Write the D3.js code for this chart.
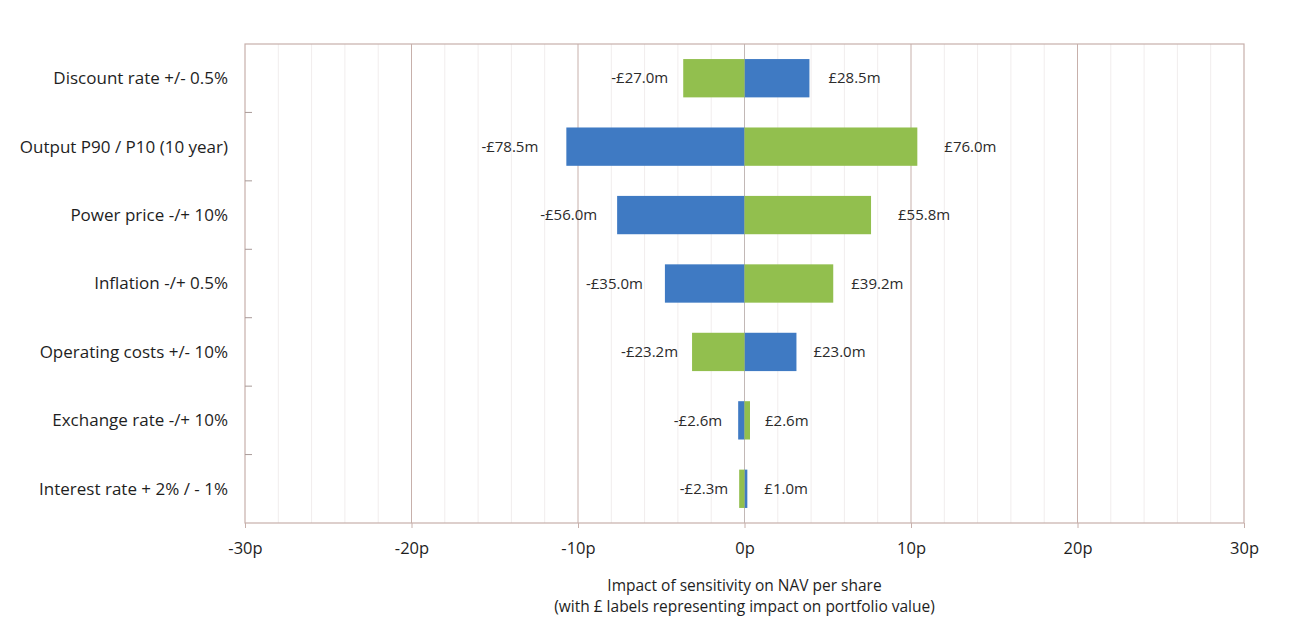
<!DOCTYPE html>
<html>
<head>
<meta charset="utf-8">
<script src="https://cdn.jsdelivr.net/npm/d3@7"></script>
<style>
  html, body { margin: 0; padding: 0; background: #ffffff; }
  svg { display: block; font-family: "Open Sans", "Noto Sans", sans-serif; }
</style>
</head>
<body>
<svg id="chart" width="1290" height="622"></svg>
<script>
// Sensitivity categories (top to bottom)
const categories = [
  "Discount rate +/- 0.5%",
  "Output P90 / P10 (10 year)",
  "Power price -/+ 10%",
  "Inflation -/+ 0.5%",
  "Operating costs +/- 10%",
  "Exchange rate -/+ 10%",
  "Interest rate + 2% / - 1%"
];

// Impact on NAV per share (pence), blue series and green series
const blueValues  = [3.9, -10.7, -7.65, -4.78, 3.12, -0.38, 0.17];
const greenValues = [-3.68, 10.38, 7.6, 5.33, -3.15, 0.33, -0.32];

// Impact on portfolio value (£m) shown as bar labels
const negativeLabels = ["-£27.0m", "-£78.5m", "-£56.0m", "-£35.0m", "-£23.2m", "-£2.6m", "-£2.3m"];
const positiveLabels = ["£28.5m", "£76.0m", "£55.8m", "£39.2m", "£23.0m", "£2.6m", "£1.0m"];

// Axis ticks
const xTicks = [-30, -20, -10, 0, 10, 20, 30];
const xMinorTicks = d3.range(-28, 30, 2).filter(v => v % 10 !== 0);

const colors = { blue: "#3f7ac3", green: "#92bf4e" };

// Label placement (gap in px from bar end, per row)
const negGap = [15, 28, 20, 22, 14, 16, 11];
const posGap = [19, 27, 27, 18, 17, 15, 17];

const svg = d3.select("#chart");
const margin = { left: 245, right: 46, top: 44, bottom: 99 };
const W = 1290, H = 622;
const innerW = W - margin.left - margin.right;
const innerH = H - margin.top - margin.bottom;

const x = d3.scaleLinear().domain([-30, 30]).range([margin.left, margin.left + innerW]);
const y = d3.scaleBand().domain(categories).range([margin.top, margin.top + innerH]).paddingInner(0.44).paddingOuter(0.22);

const frameColor = "#c7b0ab";

// Minor gridlines
svg.append("g").selectAll("line").data(xMinorTicks).join("line")
  .attr("x1", d => x(d)).attr("x2", d => x(d))
  .attr("y1", margin.top).attr("y2", margin.top + innerH)
  .attr("stroke", "#f1eded").attr("stroke-width", 1);

// Major gridlines
svg.append("g").selectAll("line").data(xTicks.filter(v => v !== -30 && v !== 30)).join("line")
  .attr("x1", d => x(d)).attr("x2", d => x(d))
  .attr("y1", margin.top).attr("y2", margin.top + innerH)
  .attr("stroke", d => d === 0 ? "#c2b8b6" : frameColor).attr("stroke-width", 1);

// Plot frame
svg.append("rect")
  .attr("x", margin.left).attr("y", margin.top)
  .attr("width", innerW).attr("height", innerH)
  .attr("fill", "none").attr("stroke", frameColor).attr("stroke-width", 1.2);

// Category boundary ticks on the vertical axis
const boundaries = categories.slice(1).map((c, i) => (y(categories[i]) + y.bandwidth() + y(c)) / 2);
svg.append("g").selectAll("line").data(boundaries).join("line")
  .attr("x1", margin.left).attr("x2", margin.left + 7)
  .attr("y1", d => d).attr("y2", d => d)
  .attr("stroke", "#a99a98").attr("stroke-width", 1);

// Bars
const rows = categories.map((c, i) => ({ i, cat: c, blue: blueValues[i], green: greenValues[i], neg: negativeLabels[i], pos: positiveLabels[i] }));
const barG = svg.append("g");
["blue", "green"].forEach(key => {
  barG.selectAll("rect." + key).data(rows).join("rect")
    .attr("class", key)
    .attr("x", d => x(Math.min(0, d[key])))
    .attr("width", d => Math.abs(x(d[key]) - x(0)))
    .attr("y", d => y(d.cat))
    .attr("height", y.bandwidth())
    .attr("fill", colors[key]);
});

// Value labels
const labelG = svg.append("g").attr("font-size", 15).attr("fill", "#2b2b2b");
labelG.selectAll("text.neg").data(rows).join("text")
  .attr("class", "neg")
  .attr("x", d => x(Math.min(d.blue, d.green)) - negGap[d.i])
  .attr("y", d => y(d.cat) + y.bandwidth() / 2)
  .attr("dy", "0.35em").attr("text-anchor", "end")
  .text(d => d.neg);
labelG.selectAll("text.pos").data(rows).join("text")
  .attr("class", "pos")
  .attr("x", d => x(Math.max(d.blue, d.green)) + posGap[d.i])
  .attr("y", d => y(d.cat) + y.bandwidth() / 2)
  .attr("dy", "0.35em").attr("text-anchor", "start")
  .text(d => d.pos);

// Category labels
svg.append("g").selectAll("text").data(categories).join("text")
  .attr("x", 228)
  .attr("y", d => y(d) + y.bandwidth() / 2)
  .attr("dy", "0.35em").attr("text-anchor", "end")
  .attr("font-size", 17).attr("fill", "#1e1e1e")
  .text(d => d);

// Horizontal axis
const xAxis = d3.axisBottom(x).tickValues(xTicks).tickSize(5).tickPadding(14).tickFormat(d => d + "p");
const axisG = svg.append("g").attr("transform", `translate(0,${margin.top + innerH})`).call(xAxis);
axisG.select(".domain").remove();
axisG.selectAll(".tick line").attr("stroke", frameColor);
axisG.selectAll(".tick text").attr("font-size", 16.5).attr("fill", "#1e1e1e").attr("font-family", "'Open Sans', sans-serif");

// Axis title
const title = svg.append("text").attr("x", x(0)).attr("text-anchor", "middle").attr("font-size", 15.5).attr("fill", "#1e1e1e");
title.append("tspan").attr("x", x(0)).attr("y", 591).text("Impact of sensitivity on NAV per share");
title.append("tspan").attr("x", x(0)).attr("y", 612).text("(with £ labels representing impact on portfolio value)");
</script>
</body>
</html>
